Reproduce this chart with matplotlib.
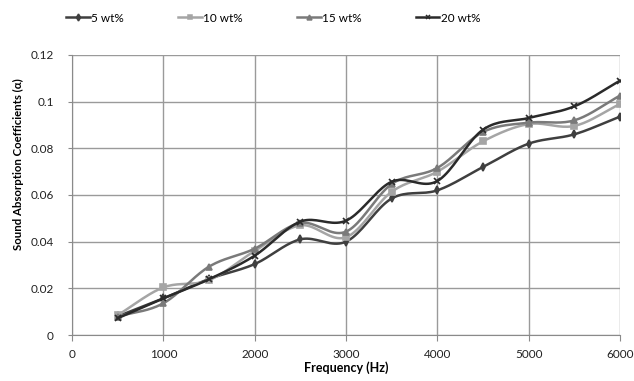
import numpy as np
import matplotlib
matplotlib.use('Agg')
import matplotlib.pyplot as plt

plt.rcParams['font.family'] = ['Lato', 'DejaVu Sans']

freq = [500, 1000, 1500, 2000, 2500, 3000, 3500, 4000, 4500, 5000, 5500, 6000]
wt5 = [0.008, 0.0157, 0.024, 0.0304, 0.041, 0.040, 0.0585, 0.062, 0.072, 0.082, 0.086, 0.0936]
wt10 = [0.0085, 0.0204, 0.0235, 0.036, 0.047, 0.0419, 0.0614, 0.070, 0.083, 0.0904, 0.0896, 0.099]
wt15 = [0.0079, 0.0136, 0.0293, 0.037, 0.048, 0.0443, 0.0647, 0.0716, 0.087, 0.091, 0.092, 0.1026]
wt20 = [0.0072, 0.0157, 0.0239, 0.034, 0.0486, 0.049, 0.0657, 0.066, 0.088, 0.093, 0.098, 0.109]

labels = ['5 wt%', '10 wt%', '15 wt%', '20 wt%']
series = [wt5, wt10, wt15, wt20]
colors = ['#3f3f3f', '#a5a5a5', '#7a7a7a', '#2a2a2a']
markers = ['d', 's', '^', 'x']


def smooth(x, y, n=20):
    # catmull-rom style smoothing like excel's smoothed lines
    x = np.asarray(x, float)
    y = np.asarray(y, float)
    px = np.concatenate([[2 * x[0] - x[1]], x, [2 * x[-1] - x[-2]]])
    py = np.concatenate([[2 * y[0] - y[1]], y, [2 * y[-1] - y[-2]]])
    xs, ys = [], []
    t = np.linspace(0, 1, n, endpoint=False)
    for i in range(1, len(px) - 2):
        for p, out in ((px, xs), (py, ys)):
            p0, p1, p2, p3 = p[i - 1], p[i], p[i + 1], p[i + 2]
            out.extend(0.5 * ((2 * p1) + (-p0 + p2) * t
                              + (2 * p0 - 5 * p1 + 4 * p2 - p3) * t ** 2
                              + (-p0 + 3 * p1 - 3 * p2 + p3) * t ** 3))
    xs.append(x[-1])
    ys.append(y[-1])
    return xs, ys


fig = plt.figure(figsize=(6.34, 3.81), dpi=100)
ax = fig.add_axes([0.1136, 0.1207, 0.8644, 0.735])

for lab, vals, c, m in zip(labels, series, colors, markers):
    sx, sy = smooth(freq, vals)
    ax.plot(sx, sy, color=c, lw=1.8)
    ax.plot(freq, vals, ls='none', marker=m, color=c, ms=4 if m != 'x' else 4.5,
            mew=1.2)
    ax.plot([], [], color=c, lw=1.8, marker=m, ms=3.5, mew=1.1, label=lab)

ax.set_xlim(0, 6000)
ax.set_ylim(0, 0.12)
ax.set_xticks(range(0, 6001, 1000))
ax.set_yticks([0, 0.02, 0.04, 0.06, 0.08, 0.1, 0.12])
ax.set_yticklabels(['0', '0.02', '0.04', '0.06', '0.08', '0.1', '0.12'])
ax.grid(True, color='#9a9a9a', lw=1)
ax.set_axisbelow(True)
for s in ['top', 'right']:
    ax.spines[s].set_visible(False)
for s in ['left', 'bottom']:
    ax.spines[s].set_color('#8a8a8a')
ax.tick_params(axis='x', length=4, color='#8a8a8a', labelsize=8.5, pad=6, labelcolor='#222222')
ax.tick_params(axis='y', length=3, color='#8a8a8a', labelsize=8.5, pad=10, labelcolor='#222222')

ax.set_xlabel('Frequency (Hz)', fontsize=9, fontweight='bold', labelpad=1)
ax.set_ylabel('Sound Absorption Coefficients (α)', fontsize=8.2, fontweight='bold')
ax.yaxis.set_label_coords(-0.087, 0.61)

fig.legend(loc='upper left', bbox_to_anchor=(0.088, 0.995), ncol=4, frameon=False,
           fontsize=8.5, handlelength=2.0, handletextpad=0.1, columnspacing=4.6)

fig.savefig('out.png', dpi=100)
